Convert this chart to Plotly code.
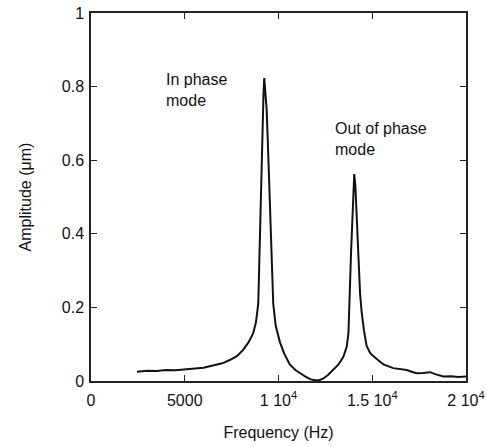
import plotly.graph_objects as go

freq = [2450, 3000, 3500, 4000, 4500, 5000, 5500, 6000, 6500, 7000, 7400, 7800,
        8100, 8400, 8650, 8800, 8920, 9000, 9080, 9140, 9200, 9240, 9300, 9370,
        9450, 9550, 9650, 9720, 9850, 10080, 10300, 10600, 10900, 11150, 11400,
        11680, 11950, 12200, 12400, 12650, 12920, 13200, 13460, 13640, 13730,
        13780, 13870, 13940, 14000, 14040, 14100, 14170, 14250, 14350, 14430,
        14550, 14700, 14900, 15240, 15600, 16120, 16500, 16840, 17100, 17370,
        17700, 18080, 18400, 18790, 19200, 19600, 20000]
amplitude = [0.025, 0.028, 0.027, 0.030, 0.029, 0.032, 0.033, 0.036, 0.042, 0.048,
             0.057, 0.068, 0.084, 0.105, 0.13, 0.16, 0.21, 0.39, 0.58, 0.71, 0.78,
             0.823, 0.79, 0.736, 0.62, 0.465, 0.31, 0.21, 0.15, 0.105, 0.075, 0.045,
             0.030, 0.021, 0.013, 0.005, 0.002, 0.003, 0.007, 0.017, 0.030, 0.045,
             0.066, 0.093, 0.13, 0.238, 0.35, 0.4375, 0.50, 0.5625, 0.53, 0.4375,
             0.35, 0.238, 0.19, 0.14, 0.095, 0.075, 0.060, 0.045, 0.035, 0.032,
             0.030, 0.025, 0.021, 0.022, 0.024, 0.018, 0.012, 0.013, 0.011, 0.012]

x_tickvals = [0, 5000, 10000, 15000, 20000]
x_ticktext = ["0", "5000", "1 10<sup>4</sup>", "1.5 10<sup>4</sup>", "2 10<sup>4</sup>"]
y_tickvals = [0, 0.2, 0.4, 0.6, 0.8, 1]
y_ticktext = ["0", "0.2", "0.4", "0.6", "0.8", "1"]

fig = go.Figure()
fig.add_trace(go.Scatter(x=freq, y=amplitude, mode="lines",
                         line=dict(color="#111111", width=2), showlegend=False))

font = dict(family="Liberation Sans, Arial, sans-serif", size=16, color="#111111")

fig.add_annotation(x=3900, y=0.848, text="In phase<br>mode", showarrow=False,
                   xanchor="left", yanchor="top", align="left", font=font)
fig.add_annotation(x=12920, y=0.716, text="Out of phase<br>mode", showarrow=False,
                   xanchor="left", yanchor="top", align="left", font=font)

axis_common = dict(showline=True, linecolor="#222222", linewidth=1.5, mirror="ticks",
                   ticks="inside", ticklen=6, tickcolor="#222222", showgrid=False,
                   zeroline=False, tickfont=font, automargin=False,
                   ticklabeloverflow="allow")

fig.update_xaxes(range=[0, 20000], tickvals=x_tickvals, ticktext=x_ticktext,
                 ticklabelstandoff=4,
                 title=dict(text="Frequency (Hz)", font=font, standoff=19), **axis_common)
fig.update_yaxes(range=[0, 1], tickvals=y_tickvals, ticktext=y_ticktext,
                 ticklabelstandoff=2,
                 title=dict(text="Amplitude (μm)", font=font, standoff=26), **axis_common)

fig.update_layout(width=487, height=447, margin=dict(l=91, r=21, t=13, b=66),
                  plot_bgcolor="white", paper_bgcolor="white", font=font)

fig.write_html("out.html", config={"displayModeBar": False},
               post_script="document.body.style.margin='0';")
